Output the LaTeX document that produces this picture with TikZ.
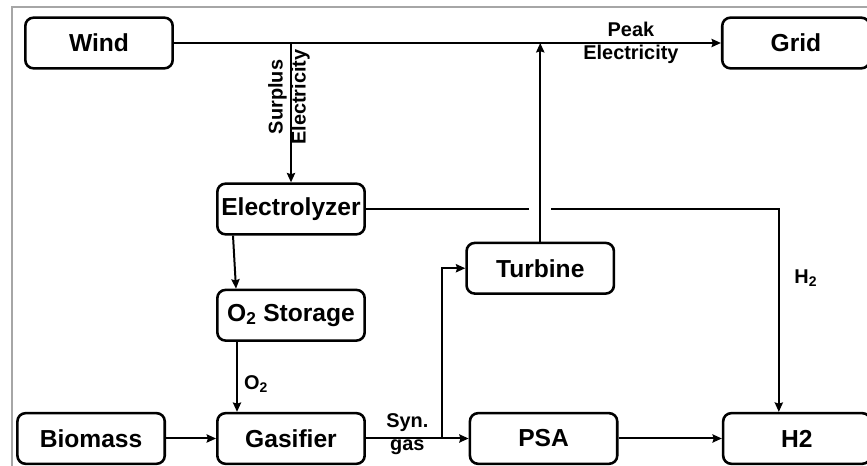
\documentclass[tikz,border=0pt]{standalone}
\usepackage{fontspec}
\setmainfont{Liberation Sans}
\usetikzlibrary{positioning,arrows.meta}
\tikzset{
  h2box/.style  ={rectangle, rounded corners=7pt, draw=black, line width=2.2pt,
                  minimum width=4.42cm, minimum height=1.52cm, inner sep=2pt,
                  font=\fontsize{21}{24}\selectfont\bfseries},
  h2flow/.style ={->, >={Stealth[length=8pt,width=7pt,inset=1pt]}, line width=1.7pt},
  h2line/.style ={line width=1.7pt},
  h2lbl/.style  ={align=center, inner sep=0pt, font=\fontsize{17}{19.6}\selectfont\bfseries},
}

\begin{document}
\begin{tikzpicture}
        \useasboundingbox (0,0) rectangle (26.01,-13.98);
        \clip (0,0) rectangle (26.01,-13.98);
        \draw[gray!70, line width=1pt] (0.36,-14.5) |- (26.5,-0.21);
        % boxes
        \node[h2box] (wind) at (2.97,-1.29) {Wind};
        \node[h2box, right=16.41cm of wind] (grid) {Grid};
        \node[h2box] (elec) at (8.73,-6.27) {Electrolyzer};
        \node[h2box, below=1.59cm of elec] (o2st) {O\textsubscript{2} Storage};
        \node[h2box, below=2.1cm of o2st] (gasi) {Gasifier};
        \node[h2box, left=1.5cm of gasi] (bio) {Biomass};
        \node[h2box, right=3.08cm of gasi] (psa) {PSA};
        \node[h2box, right=3.1cm of psa] (htwo) {H2};
        \node[h2box, above=3.51cm of psa, xshift=-0.1cm] (turb) {Turbine};
        % electricity
        \coordinate (surp) at (elec.north |- wind.east);
        \coordinate (peak) at (turb.north |- wind.east);
        \draw[h2flow] (wind) -- (grid);
        \draw[h2flow] (surp) -- (elec);
        \draw[h2flow] (turb) -- (peak);
        \node[h2lbl, rotate=90] (surplbl) at ([xshift=-0.06cm, yshift=-1.62cm]surp) {Surplus\\Electricity};
        \node[h2lbl] (peaklbl) at ([xshift=-2.7cm]grid.west) {Peak\\Electricity};
        % hydrogen
        \coordinate (gapl) at ([xshift=-0.33cm]turb.north |- elec.east);
        \coordinate (gapr) at ([xshift=0.33cm]turb.north |- elec.east);
        \coordinate (hturn) at ([xshift=-0.54cm]htwo.north |- elec.east);
        \draw[h2line] (elec) -- (gapl);
        \draw[h2flow] (gapr) -- (hturn) -- (hturn |- htwo.north);
        \node[h2lbl] (h2lbl) at ([xshift=0.81cm, yshift=-2.07cm]hturn) {H\textsubscript{2}};
        % oxygen
        \draw[h2flow] ([xshift=-1.74cm]elec.south) -- ([xshift=-1.65cm]o2st.north);
        \draw[h2flow] ([xshift=-1.62cm]o2st.south) -- ([xshift=-1.62cm]gasi.north);
        \node[h2lbl] (o2lbl) at ([xshift=-1.05cm, yshift=-1.27cm]o2st.south) {O\textsubscript{2}};
        % bottom row
        \coordinate (synj) at ([xshift=2.27cm]gasi.east);
        \draw[h2flow] (bio) -- (gasi);
        \draw[h2flow] (gasi) -- (psa);
        \draw[h2flow] (synj) |- (turb);
        \draw[h2flow] (psa) -- (htwo);
        \node[h2lbl] (synlbl) at ([xshift=1.24cm, yshift=0.13cm]gasi.east) {Syn.\\gas};
\end{tikzpicture}
\end{document}
